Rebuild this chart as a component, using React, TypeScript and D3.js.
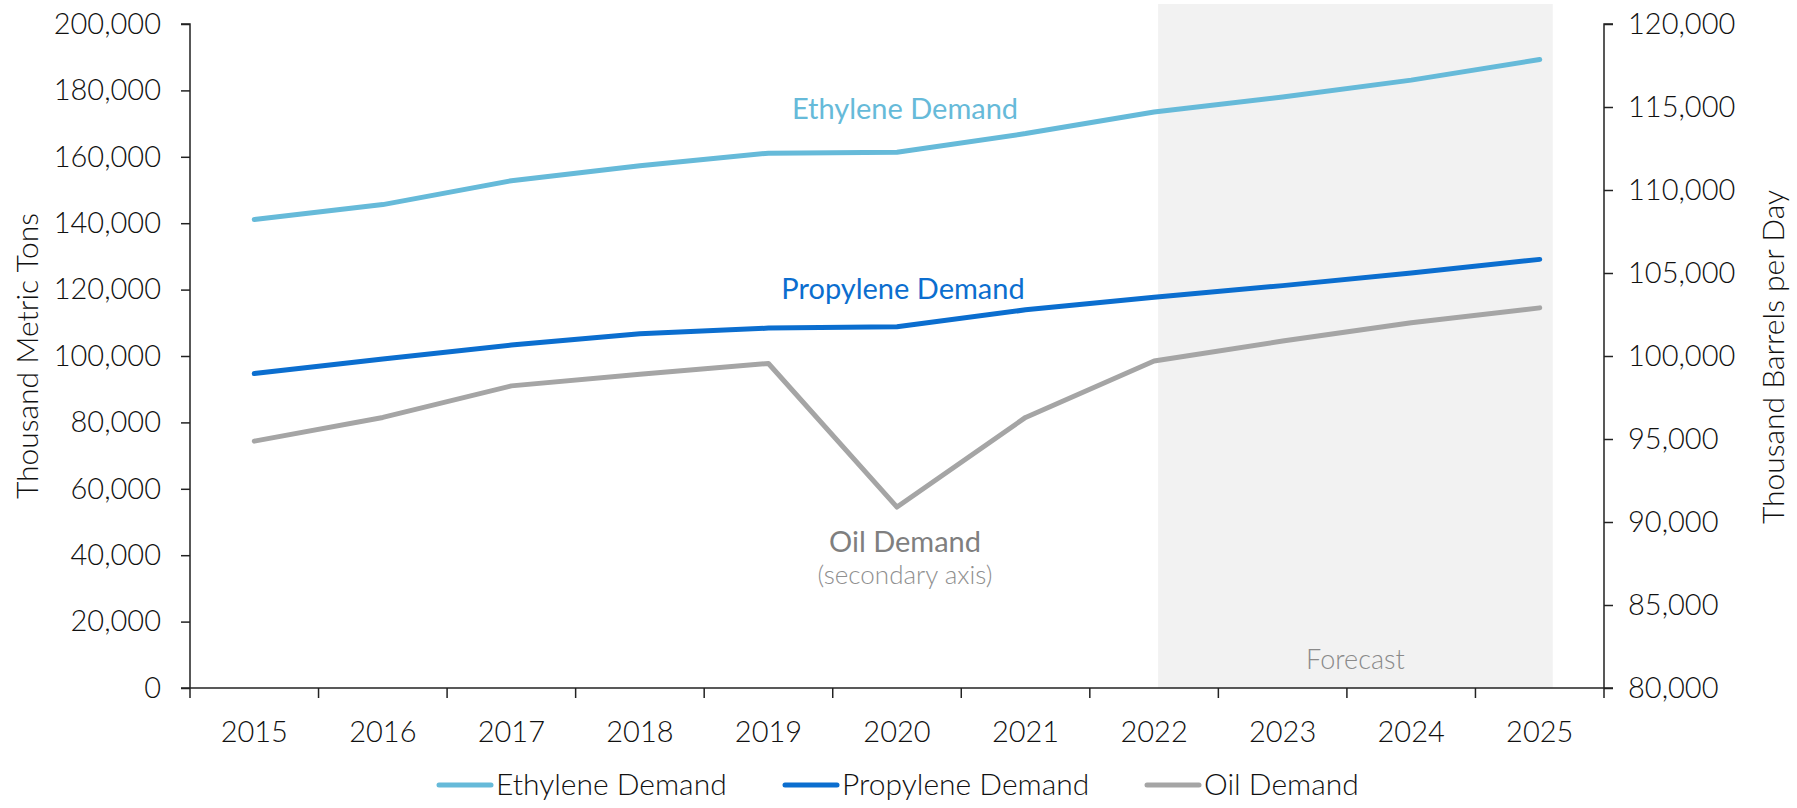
import * as React from "react";
import * as d3 from "d3";

// values
const years: string[] = ["2015", "2016", "2017", "2018", "2019", "2020", "2021", "2022", "2023", "2024", "2025"];
const ethylene: number[] = [141100, 145600, 152800, 157300, 161100, 161400, 167000, 173500, 178000, 183100, 189300];
const propylene: number[] = [94700, 99100, 103300, 106700, 108400, 108800, 113900, 117700, 121200, 125000, 129100];
const oil: number[] = [94870, 96300, 98200, 98900, 99550, 90900, 96300, 99700, 100900, 102000, 102900];
const leftTicks: number[] = [0, 20000, 40000, 60000, 80000, 100000, 120000, 140000, 160000, 180000, 200000];
const rightTicks: number[] = [80000, 85000, 90000, 95000, 100000, 105000, 110000, 115000, 120000];
const forecastFrom = "2022";
const forecastTo = "2025";

const W = 1797;
const H = 808;
const left = 190;
const right = 1604;
const top = 24;
const bottom = 688;

const C_ETH = "#66BAD9";
const C_PRO = "#0B6ECF";
const C_OIL = "#A5A5A5";
const FONT = "Lato, 'Open Sans', sans-serif";

const x = d3.scaleBand<string>().domain(years).range([left, right]);
const cx = (y: string) => (x(y) as number) + x.bandwidth() / 2;
const yL = d3.scaleLinear().domain([0, 200000]).range([bottom, top]);
const yR = d3.scaleLinear().domain([80000, 120000]).range([bottom, top]);
const fmt = d3.format(",");

const lineL = d3.line<number>().x((_, i) => cx(years[i])).y(d => yL(d));
const lineR = d3.line<number>().x((_, i) => cx(years[i])).y(d => yR(d));

export default function App() {
  const leftRef = React.useRef<SVGGElement>(null);
  const rightRef = React.useRef<SVGGElement>(null);
  const bottomRef = React.useRef<SVGGElement>(null);

  React.useEffect(() => {
    document.body.style.margin = "0";
    const la = d3.axisLeft(yL).tickValues(leftTicks).tickFormat(d => fmt(d as number)).tickSize(9).tickPadding(20);
    const ra = d3.axisRight(yR).tickValues(rightTicks).tickFormat(d => fmt(d as number)).tickSize(9).tickPadding(15);
    const gl = d3.select(leftRef.current).call(la);
    const gr = d3.select(rightRef.current).call(ra);
    [gl, gr].forEach(g => {
      g.selectAll("path, line").attr("stroke", "#222").attr("stroke-width", 1.5);
      g.selectAll("text").attr("font-family", FONT).attr("font-weight", 300).attr("font-size", 29).attr("fill", "#111");
    });
    gl.select("path.domain").attr("d", `M-9,${top}H0V${bottom}`);
    gr.select("path.domain").attr("d", `M9,${top}H0V${bottom}`);

    const gb = d3.select(bottomRef.current);
    gb.selectAll("*").remove();
    gb.append("line").attr("x1", left - 9).attr("x2", right + 9).attr("y1", bottom).attr("y2", bottom)
      .attr("stroke", "#222").attr("stroke-width", 1.5);
    const edges = years.map(y => x(y) as number).concat([right]);
    gb.selectAll("line.tk").data(edges).enter().append("line").attr("class", "tk")
      .attr("x1", d => d).attr("x2", d => d).attr("y1", bottom).attr("y2", bottom + 10)
      .attr("stroke", "#222").attr("stroke-width", 1.5);
    gb.selectAll("text").data(years).enter().append("text")
      .attr("x", d => cx(d)).attr("y", 742).attr("text-anchor", "middle")
      .attr("font-family", FONT).attr("font-weight", 300).attr("font-size", 29).attr("fill", "#111")
      .text(d => d);
  }, []);

  const fx0 = cx(forecastFrom) + 4;
  const fx1 = cx(forecastTo) + 13;

  const legend = [
    { label: "Ethylene Demand", color: C_ETH, x: 439 },
    { label: "Propylene Demand", color: C_PRO, x: 785 },
    { label: "Oil Demand", color: C_OIL, x: 1147 },
  ];

  return (
    <svg width={W} height={H} style={{ display: "block", background: "#fff" }}>
      <rect x={fx0} y={4} width={fx1 - fx0} height={bottom - 4} fill="#F2F2F2" />
      <text x={(fx0 + fx1) / 2} y={669} textAnchor="middle" fontFamily={FONT} fontWeight={300} fontSize={27} fill="#8a8a8a">Forecast</text>

      <path d={lineR(oil) || ""} fill="none" stroke={C_OIL} strokeWidth={5} strokeLinecap="round" strokeLinejoin="round" />
      <path d={lineL(propylene) || ""} fill="none" stroke={C_PRO} strokeWidth={5} strokeLinecap="round" strokeLinejoin="round" />
      <path d={lineL(ethylene) || ""} fill="none" stroke={C_ETH} strokeWidth={5} strokeLinecap="round" strokeLinejoin="round" />

      <text x={905} y={119} textAnchor="middle" fontFamily={FONT} fontSize={29} fill={C_ETH}>Ethylene Demand</text>
      <text x={903} y={299} textAnchor="middle" fontFamily={FONT} fontSize={29} fill={C_PRO}>Propylene Demand</text>
      <text x={905} y={552} textAnchor="middle" fontFamily={FONT} fontSize={29} fill="#7f7f7f">Oil Demand</text>
      <text x={905} y={584} textAnchor="middle" fontFamily={FONT} fontWeight={300} fontSize={26} fill="#8f8f8f">(secondary axis)</text>

      <g ref={leftRef} transform={`translate(${left},0)`} />
      <g ref={rightRef} transform={`translate(${right},0)`} />
      <g ref={bottomRef} />

      <text transform={`translate(38,356) rotate(-90)`} textAnchor="middle" fontFamily={FONT} fontWeight={300} fontSize={30} fill="#111">Thousand Metric Tons</text>
      <text transform={`translate(1784,357) rotate(-90)`} textAnchor="middle" fontFamily={FONT} fontWeight={300} fontSize={30} fill="#111">Thousand Barrels per Day</text>

      {legend.map(l => (
        <g key={l.label}>
          <line x1={l.x} x2={l.x + 52} y1={785} y2={785} stroke={l.color} strokeWidth={5} strokeLinecap="round" />
          <text x={l.x + 57} y={795} fontFamily={FONT} fontWeight={300} fontSize={30} fill="#111">{l.label}</text>
        </g>
      ))}
    </svg>
  );
}
